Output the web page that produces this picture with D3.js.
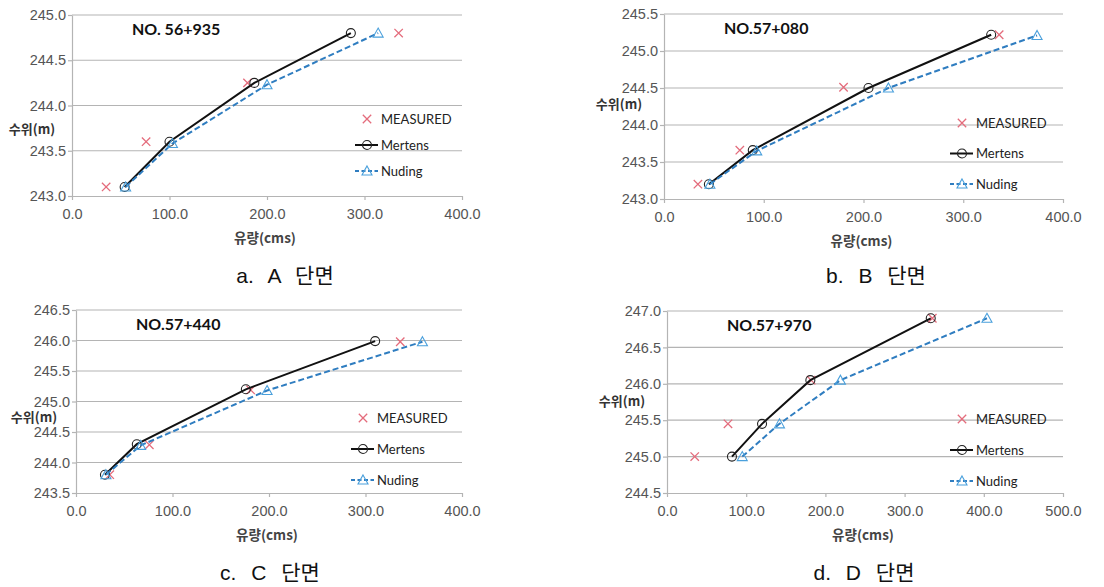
<!DOCTYPE html>
<html>
<head>
<meta charset="utf-8">
<script src="https://cdn.jsdelivr.net/npm/d3@7"></script>
<style>
  body { margin: 0; background: #fff; }
  text { font-family: "Liberation Sans", Arial, sans-serif; }
</style>
</head>
<body>
<div id="chart"></div>
<script>
// ---- data ----
const sectionNames = ["NO. 56+935", "NO.57+080", "NO.57+440", "NO.57+970"];
const captions = ["a. A 단면", "b. B 단면", "c. C 단면", "d. D 단면"];
const seriesNames = ["MEASURED", "Mertens", "Nuding"];

const xTicksA = [0, 100, 200, 300, 400];
const xTicksD = [0, 100, 200, 300, 400, 500];
const yTicksA = [243.0, 243.5, 244.0, 244.5, 245.0];
const yTicksB = [243.0, 243.5, 244.0, 244.5, 245.0, 245.5];
const yTicksC = [243.5, 244.0, 244.5, 245.0, 245.5, 246.0, 246.5];
const yTicksD = [244.5, 245.0, 245.5, 246.0, 246.5, 247.0];

// [discharge (cms), water level (m)]
const measuredA = [[35, 243.1], [76, 243.6], [180, 244.25], [335, 244.8]];
const mertensA  = [[54, 243.1], [100, 243.6], [187, 244.25], [286, 244.8]];
const nudingA   = [[55, 243.1], [103, 243.58], [200, 244.23], [314, 244.8]];

const measuredB = [[34, 243.2], [76, 243.66], [180, 244.51], [336, 245.22]];
const mertensB  = [[45, 243.2], [89, 243.66], [205, 244.5], [328, 245.22]];
const nudingB   = [[46, 243.2], [93, 243.65], [225, 244.5], [374, 245.21]];

const measuredC = [[35, 243.8], [76, 244.29], [181, 245.19], [336, 245.98]];
const mertensC  = [[30, 243.8], [63, 244.3], [176, 245.2], [310, 245.99]];
const nudingC   = [[31, 243.8], [67, 244.28], [198, 245.18], [359, 245.98]];

const measuredD = [[35, 245.0], [77, 245.45], [182, 246.05], [335, 246.9]];
const mertensD  = [[82, 245.0], [120, 245.45], [181, 246.05], [333, 246.9]];
const nudingD   = [[95, 245.0], [142, 245.45], [219, 246.05], [404, 246.9]];

// ---- layout ----
const panels = [
  {left: 72,  top: 15,  width: 390, height: 181, xTicks: xTicksA, yTicks: yTicksA,
   data: [measuredA, mertensA, nudingA], legend: {x: 295, y: 104, gap: 26},
   yLabel: {x: 32, y: 129}, capX: 285, capY: 283},
  {left: 664, top: 14,  width: 399, height: 185, xTicks: xTicksA, yTicks: yTicksB,
   data: [measuredB, mertensB, nudingB], legend: {x: 298, y: 109, gap: 30.5},
   yLabel: {x: 619, y: 104}, capX: 876, capY: 283},
  {left: 76,  top: 310, width: 386, height: 183, xTicks: xTicksA, yTicks: yTicksC,
   data: [measuredC, mertensC, nudingC], legend: {x: 287, y: 108, gap: 31},
   yLabel: {x: 34, y: 417}, capX: 270, capY: 580},
  {left: 667, top: 311, width: 396, height: 182, xTicks: xTicksD, yTicks: yTicksD,
   data: [measuredD, mertensD, nudingD], legend: {x: 295, y: 108, gap: 31},
   yLabel: {x: 622, y: 401}, capX: 864, capY: 580}
];

const gridColor = "#b4b4b4";
const measuredColor = "#e46c7c";
const nudingLine = "#2f7dc0";
const nudingMarker = "#4aa0dc";

/**
 * Appends the svg to the dom.
 */
function appendToDom() {
  return d3.select("#chart").append("svg")
    .attr("width", 1104)
    .attr("height", 587);
}

/**
 * Draws a cross marker.
 */
function drawCross(g, cx, cy) {
  const s = 4.2;
  g.append("path")
    .attr("d", `M${cx - s},${cy - s}L${cx + s},${cy + s}M${cx - s},${cy + s}L${cx + s},${cy - s}`)
    .attr("stroke", measuredColor)
    .attr("stroke-width", 1.3)
    .attr("fill", "none");
}

/**
 * Draws an open circle marker.
 */
function drawCircle(g, cx, cy) {
  g.append("circle")
    .attr("cx", cx).attr("cy", cy).attr("r", 4.5)
    .attr("fill", "none")
    .attr("stroke", "#222")
    .attr("stroke-width", 1.1);
}

/**
 * Draws an open triangle marker.
 */
function drawTriangle(g, cx, cy) {
  const s = 5;
  g.append("path")
    .attr("d", `M${cx},${cy - s}L${cx + s},${cy + s * 0.8}L${cx - s},${cy + s * 0.8}Z`)
    .attr("fill", "none")
    .attr("stroke", nudingMarker)
    .attr("stroke-width", 1.1);
}

/**
 * Draws grid, axes and their labels.
 */
function drawAxes(g, p, x, y) {
  g.append("g")
    .selectAll("line")
    .data(p.yTicks.slice(1))
    .enter().append("line")
    .attr("x1", 0).attr("x2", p.width)
    .attr("y1", d => y(d)).attr("y2", d => y(d))
    .attr("stroke", gridColor).attr("stroke-width", 1.2);

  const xAxis = g.append("g")
    .attr("transform", "translate(0," + p.height + ")")
    .call(d3.axisBottom(x).tickValues(p.xTicks).tickFormat(d3.format(".1f")).tickSizeInner(4).tickSizeOuter(0));
  const yAxis = g.append("g")
    .call(d3.axisLeft(y).tickValues(p.yTicks).tickFormat(d3.format(".1f")).tickSizeInner(4).tickSizeOuter(0));

  [xAxis, yAxis].forEach(a => {
    a.select(".domain").attr("stroke", gridColor).attr("stroke-width", 1.2);
    a.selectAll(".tick line").attr("stroke", gridColor).attr("stroke-width", 1.2);
    a.selectAll(".tick text")
      .attr("fill", "#555")
      .style("font-size", "14.5px")
      .style("font-family", "'Liberation Sans', Arial, sans-serif");
  });
  xAxis.selectAll(".tick text").attr("dy", "1.1em");
  yAxis.selectAll(".tick text").attr("x", -6);
}

/**
 * Draws the three series.
 */
function drawSeries(g, p, x, y) {
  const line = d3.line().x(d => x(d[0])).y(d => y(d[1]));
  const [measured, mertens, nuding] = p.data;

  measured.forEach(d => drawCross(g, x(d[0]), y(d[1])));

  g.append("path").datum(mertens)
    .attr("d", line).attr("fill", "none")
    .attr("stroke", "#111").attr("stroke-width", 2);
  mertens.forEach(d => drawCircle(g, x(d[0]), y(d[1])));

  g.append("path").datum(nuding)
    .attr("d", line).attr("fill", "none")
    .attr("stroke", nudingLine).attr("stroke-width", 2)
    .attr("stroke-dasharray", "6,3");
  nuding.forEach(d => drawTriangle(g, x(d[0]), y(d[1])));
}

/**
 * Draws the legend inside the plot area.
 */
function drawLegend(g, p) {
  const L = p.legend;
  const lg = g.append("g").attr("transform", "translate(" + L.x + "," + L.y + ")");
  seriesNames.forEach((name, i) => {
    const cy = i * L.gap;
    if (i === 0) {
      drawCross(lg, 0, cy);
    } else if (i === 1) {
      lg.append("line").attr("x1", -12).attr("x2", 11).attr("y1", cy).attr("y2", cy)
        .attr("stroke", "#111").attr("stroke-width", 2);
      drawCircle(lg, 0, cy);
    } else {
      lg.append("line").attr("x1", -12).attr("x2", 11).attr("y1", cy).attr("y2", cy)
        .attr("stroke", nudingLine).attr("stroke-width", 2).attr("stroke-dasharray", "4,2.5");
      drawTriangle(lg, 0, cy);
    }
    lg.append("text")
      .attr("x", 14).attr("y", cy).attr("dy", "0.36em")
      .style("font-family", "Lato, 'Open Sans', sans-serif")
      .style("font-size", "13px")
      .attr("fill", "#222")
      .text(name);
  });
}

/**
 * Draws one panel.
 */
function drawPanel(svg, p, i) {
  const g = svg.append("g").attr("transform", "translate(" + p.left + "," + p.top + ")");
  const x = d3.scaleLinear().domain(d3.extent(p.xTicks)).range([0, p.width]);
  const y = d3.scaleLinear().domain(d3.extent(p.yTicks)).range([p.height, 0]);

  drawAxes(g, p, x, y);
  drawSeries(g, p, x, y);
  drawLegend(g, p);

  g.append("text")
    .attr("x", 60).attr("y", 20)
    .style("font-family", "Lato, 'Open Sans', sans-serif")
    .style("font-size", "16px").style("font-weight", "bold")
    .attr("fill", "#111")
    .text(sectionNames[i]);

  svg.append("text")
    .attr("x", p.yLabel.x).attr("y", p.yLabel.y).attr("dy", "0.35em")
    .attr("text-anchor", "middle")
    .style("font-family", "'Noto Sans CJK KR', sans-serif")
    .style("font-size", "13px").style("font-weight", "bold")
    .attr("fill", "#333")
    .text("수위(m)");

  svg.append("text")
    .attr("x", p.left + p.width / 2 - 2).attr("y", p.top + p.height + 42)
    .attr("dy", "0.35em")
    .attr("text-anchor", "middle")
    .style("font-family", "'Noto Sans CJK KR', sans-serif")
    .style("font-size", "13.5px").style("font-weight", "bold")
    .attr("fill", "#444")
    .text("유량(cms)");

  svg.append("text")
    .attr("x", p.capX).attr("y", p.capY)
    .attr("text-anchor", "middle")
    .style("font-family", "'Liberation Sans', 'Noto Sans CJK KR', sans-serif")
    .style("font-size", "21px")
    .style("word-spacing", "9px")
    .attr("fill", "#111")
    .text(captions[i]);
}

const svg = appendToDom();
panels.forEach((p, i) => drawPanel(svg, p, i));
</script>
</body>
</html>
